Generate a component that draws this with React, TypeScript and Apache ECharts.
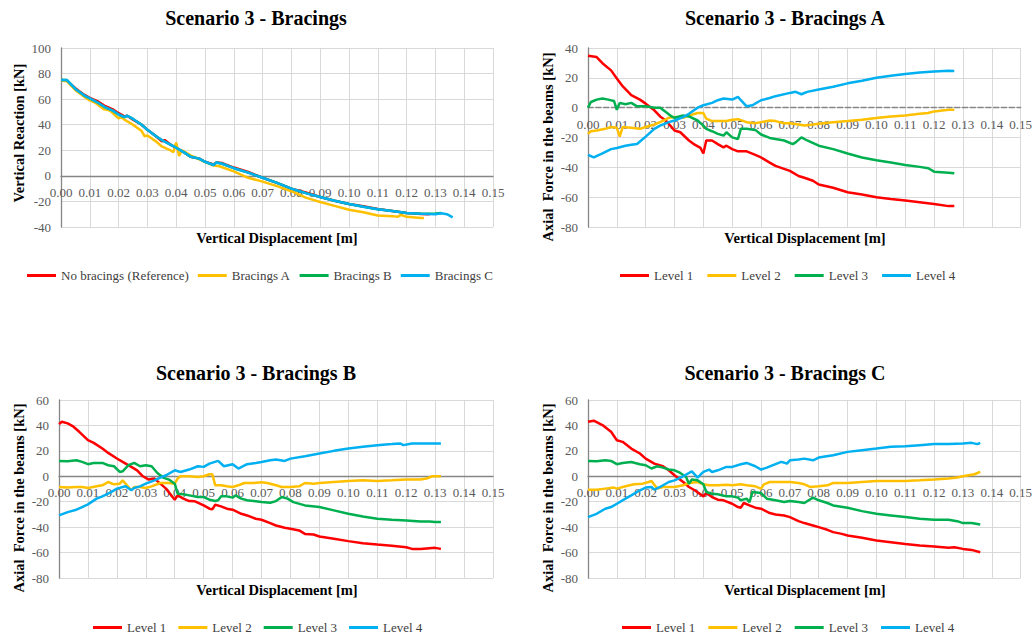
import React, { useEffect, useRef } from "react";
import * as echarts from "echarts";

const FONT = "Liberation Serif, Times New Roman, serif";

const titles = ["Scenario 3 - Bracings", "Scenario 3 - Bracings A", "Scenario 3 - Bracings B", "Scenario 3 - Bracings C"];
const yTitles = ["Vertical Reaction [kN]", "Axial  Force in the beams [kN]", "Axial  Force in the beams [kN]", "Axial  Force in the beams [kN]"];
const xTitle = "Vertical Displacement [m]";
const p1Names = ["No bracings (Reference)", "Bracings A", "Bracings B", "Bracings C"];
const levelNames = ["Level 1", "Level 2", "Level 3", "Level 4"];
const colors = ["#FF0000", "#FFC000", "#00B050", "#00B0F0"];
const yRanges = [[-40, 100], [-80, 40], [-80, 60], [-80, 60]];

// Panel 1 — vertical reaction [kN] vs displacement [m]
const p1Ref: number[][] = [[0,75],[0.002,74.5],[0.005,68.5],[0.008,63.5],[0.01,61],[0.013,58],[0.015,55],[0.018,52],[0.02,49],[0.022,46.5],[0.023,47],[0.025,44],[0.028,40],[0.03,36],[0.033,31],[0.035,27],[0.036,28],[0.038,24.5],[0.04,22],[0.043,18],[0.045,15],[0.048,13.5],[0.05,11],[0.053,9],[0.054,10.5],[0.056,10],[0.06,6.5],[0.065,3],[0.07,-1.5],[0.075,-5.5],[0.08,-10],[0.085,-13],[0.09,-16.5],[0.095,-19.5],[0.1,-22],[0.105,-23.8],[0.11,-26],[0.115,-27.5],[0.12,-29],[0.125,-29.8],[0.128,-30]];
const p1A: number[][] = [[0,74.5],[0.002,74],[0.005,67],[0.008,62],[0.01,59],[0.012,57],[0.015,52],[0.017,51],[0.02,45],[0.021,46],[0.022,44],[0.025,40],[0.028,35],[0.029,31],[0.03,31.5],[0.033,27],[0.035,23],[0.038,20],[0.039,18.5],[0.04,26],[0.041,15.5],[0.042,20],[0.045,16],[0.048,13],[0.05,11],[0.053,8],[0.055,7.5],[0.06,3.5],[0.065,-1.5],[0.07,-4.5],[0.075,-8],[0.08,-12],[0.085,-17],[0.09,-20.5],[0.095,-23.5],[0.1,-26.5],[0.105,-28.5],[0.11,-31],[0.115,-31.5],[0.117,-32],[0.118,-30.5],[0.12,-32],[0.125,-33],[0.126,-33]];
const p1B: number[][] = [[0,75],[0.002,75],[0.005,68],[0.008,63],[0.01,60.5],[0.013,57],[0.015,54],[0.018,51],[0.02,48],[0.022,46],[0.023,47],[0.025,44.5],[0.028,40],[0.03,36],[0.033,31],[0.035,28],[0.038,24.5],[0.04,22],[0.043,18],[0.045,15],[0.048,13.5],[0.05,11],[0.053,8.5],[0.054,10.5],[0.056,9.5],[0.06,6],[0.065,2.5],[0.07,-1.5],[0.075,-5.5],[0.08,-10],[0.085,-13.5],[0.09,-16.5],[0.095,-19.5],[0.1,-22],[0.105,-24.2],[0.11,-26.2],[0.115,-27.5],[0.12,-29],[0.125,-29.7],[0.13,-29.5],[0.132,-29]];
const p1C: number[][] = [[0,75],[0.002,75],[0.005,68],[0.008,63],[0.01,60.6],[0.013,57],[0.015,54],[0.018,51],[0.02,48],[0.022,46],[0.023,47],[0.025,44.5],[0.028,40],[0.03,36],[0.033,31],[0.035,28],[0.038,24.5],[0.04,22],[0.043,18],[0.045,15],[0.048,13.5],[0.05,11],[0.053,8.5],[0.054,10.5],[0.056,9.5],[0.06,6],[0.065,2.5],[0.07,-1.5],[0.075,-5.5],[0.08,-10],[0.085,-13.5],[0.09,-16.5],[0.095,-19.5],[0.1,-22],[0.105,-24.2],[0.11,-26.2],[0.115,-27.5],[0.12,-29],[0.125,-29.7],[0.13,-30],[0.132,-29.2],[0.134,-30],[0.136,-32.5]];

// Panel 2 — Bracings A, axial force [kN]
const p2L1: number[][] = [[0,34.8],[0.003,33.9],[0.005,29.8],[0.008,25],[0.01,19.6],[0.012,14.4],[0.015,8.4],[0.018,5.4],[0.02,2.7],[0.023,-1.8],[0.025,-5.9],[0.027,-8.6],[0.03,-15.3],[0.032,-16.5],[0.035,-22],[0.037,-24.8],[0.039,-27],[0.04,-30.7],[0.041,-22],[0.043,-22],[0.045,-24.4],[0.047,-26.6],[0.048,-25.5],[0.05,-27.8],[0.052,-29.3],[0.055,-29.3],[0.058,-31.6],[0.06,-33.4],[0.063,-36.8],[0.065,-39],[0.07,-42.4],[0.073,-45.8],[0.075,-47],[0.078,-49],[0.08,-51.5],[0.085,-53.7],[0.09,-56.7],[0.095,-58.2],[0.1,-60],[0.105,-61.2],[0.11,-62.3],[0.115,-63.4],[0.12,-64.6],[0.125,-66],[0.127,-66]];
const p2L2: number[][] = [[0,-17.6],[0.001,-15.8],[0.003,-15.3],[0.006,-14.2],[0.008,-13],[0.01,-13.5],[0.011,-19.4],[0.012,-13],[0.015,-13.5],[0.018,-14.2],[0.02,-13],[0.023,-11.3],[0.025,-9.7],[0.028,-6.8],[0.03,-6.3],[0.033,-6.8],[0.035,-5.2],[0.038,-3.6],[0.04,-3.6],[0.041,-7.4],[0.043,-9],[0.045,-9],[0.048,-9],[0.05,-8.1],[0.052,-7.7],[0.055,-9.7],[0.058,-10.4],[0.06,-9.7],[0.063,-8.6],[0.065,-9],[0.068,-10.4],[0.07,-10.4],[0.073,-11.3],[0.075,-12],[0.078,-11.3],[0.08,-10.8],[0.085,-9.7],[0.09,-9],[0.095,-8.1],[0.1,-7],[0.105,-5.9],[0.11,-5.2],[0.115,-4.1],[0.118,-3.6],[0.12,-2.5],[0.125,-1.4],[0.127,-1.4]];
const p2L3: number[][] = [[0,0],[0.001,3.8],[0.003,5.4],[0.005,6.1],[0.007,5.4],[0.009,4.5],[0.01,-1.4],[0.011,3.2],[0.013,2.3],[0.015,3.2],[0.017,0.9],[0.02,0.9],[0.023,0],[0.025,0],[0.027,-2.9],[0.029,-5.9],[0.03,-6.8],[0.033,-5.2],[0.035,-5.9],[0.038,-8.6],[0.04,-12],[0.041,-14.2],[0.043,-15.8],[0.045,-17.6],[0.047,-18.7],[0.048,-16.5],[0.05,-19.9],[0.052,-21],[0.053,-14.2],[0.055,-14.2],[0.058,-14.9],[0.06,-18],[0.063,-20.3],[0.065,-21],[0.068,-22],[0.071,-24.4],[0.072,-23.3],[0.074,-19.9],[0.076,-22],[0.08,-25.5],[0.085,-27.8],[0.09,-30.7],[0.095,-33.4],[0.1,-35.2],[0.105,-36.8],[0.11,-38.4],[0.115,-39.7],[0.118,-40.6],[0.12,-42.9],[0.125,-43.6],[0.127,-44]];
const p2L4: number[][] = [[0,-31.6],[0.002,-33.4],[0.005,-30.7],[0.008,-27.8],[0.01,-27],[0.013,-25.5],[0.015,-24.8],[0.017,-24.4],[0.02,-19.4],[0.023,-14.2],[0.025,-12],[0.028,-9.7],[0.03,-8.6],[0.033,-6.3],[0.035,-4.1],[0.038,0],[0.04,1.6],[0.043,3.2],[0.045,5],[0.047,6.1],[0.05,5.4],[0.052,7.2],[0.053,5],[0.055,0.9],[0.057,1.6],[0.06,5],[0.063,6.5],[0.065,7.7],[0.07,9.9],[0.072,10.6],[0.074,9],[0.076,10.6],[0.08,12.2],[0.085,14],[0.09,16.3],[0.095,18],[0.1,20],[0.105,21.4],[0.11,22.6],[0.115,23.5],[0.12,24.2],[0.125,24.8],[0.127,24.6]];

// Panel 3 — Bracings B
const p3L1: number[][] = [[0,41],[0.001,42.9],[0.003,41.6],[0.005,39],[0.007,35],[0.01,28.4],[0.012,26.3],[0.015,21.8],[0.017,18.4],[0.02,14],[0.022,11.3],[0.025,7.4],[0.027,4.7],[0.029,0],[0.031,-2.6],[0.033,-1.8],[0.035,-5.8],[0.037,-9.7],[0.04,-18.4],[0.041,-15],[0.043,-17.6],[0.045,-19.5],[0.047,-19.7],[0.05,-22.9],[0.052,-25.5],[0.053,-26],[0.054,-22.4],[0.056,-23.7],[0.058,-25.5],[0.06,-26.3],[0.063,-29.5],[0.065,-30.8],[0.068,-33.4],[0.07,-34.2],[0.073,-36.8],[0.075,-38.7],[0.078,-40.5],[0.08,-41.3],[0.083,-42.6],[0.085,-45.3],[0.088,-45.8],[0.09,-47.4],[0.095,-49.2],[0.1,-51],[0.105,-52.6],[0.11,-53.7],[0.115,-54.7],[0.12,-55.8],[0.122,-57.1],[0.125,-57.1],[0.13,-56.3],[0.132,-57.1]];
const p3L2: number[][] = [[0,-8.4],[0.003,-8.9],[0.006,-8.4],[0.008,-8.4],[0.01,-9.2],[0.013,-7.9],[0.015,-7.1],[0.017,-4.5],[0.019,-6.3],[0.021,-5.8],[0.022,-3.2],[0.024,-8.4],[0.025,-11],[0.026,-8.4],[0.028,-8.4],[0.03,-9.2],[0.032,-7.9],[0.035,-5.3],[0.038,-5.3],[0.04,-5.8],[0.041,-1.8],[0.042,0],[0.045,0],[0.048,-0.5],[0.05,0],[0.052,1.6],[0.053,1.6],[0.054,-7.1],[0.056,-7.1],[0.058,-7.9],[0.06,-8.4],[0.062,-7.1],[0.064,-5.3],[0.067,-5.3],[0.07,-4.7],[0.072,-5.3],[0.075,-7.1],[0.077,-8.4],[0.08,-8.4],[0.083,-7.9],[0.085,-5.3],[0.088,-5.8],[0.09,-5.3],[0.095,-4.5],[0.1,-3.7],[0.105,-3.2],[0.11,-3.7],[0.115,-3.2],[0.12,-2.6],[0.125,-2.6],[0.127,-1.8],[0.129,0],[0.132,0]];
const p3L3: number[][] = [[0,12.1],[0.003,11.8],[0.006,12.6],[0.008,11.3],[0.01,9.5],[0.012,10.5],[0.015,10.5],[0.017,8.7],[0.019,7.9],[0.021,3.4],[0.022,3.9],[0.024,8.7],[0.026,10.5],[0.028,7.9],[0.03,8.7],[0.032,7.9],[0.034,2.6],[0.036,-1],[0.038,-2.6],[0.04,-5.8],[0.041,-13.7],[0.043,-14.2],[0.045,-15],[0.048,-16.3],[0.05,-16.3],[0.052,-18.4],[0.054,-19.5],[0.055,-18.9],[0.056,-15.8],[0.058,-15.8],[0.06,-16.8],[0.061,-15],[0.063,-17.6],[0.065,-18.9],[0.068,-19.7],[0.07,-20.3],[0.073,-20.8],[0.075,-19.5],[0.077,-16.3],[0.079,-17.6],[0.081,-20.3],[0.085,-22.9],[0.09,-24.2],[0.095,-26.8],[0.1,-29.5],[0.105,-31.6],[0.11,-33.4],[0.115,-34.2],[0.12,-34.7],[0.125,-35.5],[0.128,-35.5],[0.13,-36],[0.132,-36]];
const p3L4: number[][] = [[0,-30.8],[0.003,-28.2],[0.006,-26.3],[0.008,-24.2],[0.01,-22.1],[0.013,-17.6],[0.015,-15.8],[0.018,-12.4],[0.02,-9.7],[0.023,-7.9],[0.025,-11],[0.026,-9.2],[0.028,-7.9],[0.03,-5.8],[0.033,-3.2],[0.035,-1],[0.037,0.8],[0.04,4.7],[0.042,3.4],[0.045,5.3],[0.048,7.9],[0.05,7.4],[0.052,10],[0.055,12.1],[0.057,7.9],[0.06,9.5],[0.062,6.1],[0.065,9.5],[0.068,10.5],[0.07,11.3],[0.073,12.6],[0.075,13.2],[0.078,12.1],[0.08,13.9],[0.085,15.8],[0.09,17.9],[0.095,20],[0.1,21.8],[0.105,23.2],[0.11,24.5],[0.115,25.3],[0.118,25.8],[0.119,24.5],[0.122,25.8],[0.125,25.8],[0.13,25.8],[0.132,25.8]];

// Panel 4 — Bracings C
const p4L1: number[][] = [[0,42.9],[0.002,43.7],[0.005,40.3],[0.008,35],[0.01,28.4],[0.012,27.1],[0.015,21.8],[0.018,17.9],[0.02,13.9],[0.023,10],[0.026,7.9],[0.028,4.7],[0.03,0.8],[0.033,-4.5],[0.035,-8.4],[0.037,-11],[0.04,-15.8],[0.041,-13.2],[0.043,-16.3],[0.045,-18.4],[0.047,-18.9],[0.05,-21.6],[0.052,-24.2],[0.053,-24.7],[0.054,-21],[0.056,-22.9],[0.058,-24.7],[0.06,-25.5],[0.063,-28.9],[0.065,-30],[0.068,-30.8],[0.07,-32.1],[0.073,-35.3],[0.075,-36.8],[0.078,-38.7],[0.08,-40],[0.083,-42.1],[0.085,-43.9],[0.088,-45.3],[0.09,-46.6],[0.095,-48.4],[0.1,-50.5],[0.105,-51.8],[0.11,-53.2],[0.115,-54.5],[0.12,-55.3],[0.125,-56.3],[0.127,-55.8],[0.13,-57.1],[0.133,-57.9],[0.136,-59.7]];
const p4L2: number[][] = [[0,-10.5],[0.003,-10.5],[0.006,-9.7],[0.009,-8.9],[0.01,-9.7],[0.013,-7.9],[0.016,-6.3],[0.019,-5.8],[0.021,-4.5],[0.022,-3.7],[0.024,-9.7],[0.026,-8.4],[0.028,-8.4],[0.03,-8.4],[0.033,-7.1],[0.035,-5.3],[0.038,-4.5],[0.04,-6.3],[0.042,-7.1],[0.045,-7.1],[0.048,-6.6],[0.05,-7.1],[0.053,-6.3],[0.055,-7.1],[0.058,-7.9],[0.06,-9.7],[0.061,-6.3],[0.063,-4.5],[0.065,-4.5],[0.07,-4.5],[0.073,-5.3],[0.075,-6.3],[0.077,-8.4],[0.08,-7.9],[0.083,-7.1],[0.085,-5.3],[0.09,-5.3],[0.095,-4.5],[0.1,-3.7],[0.105,-3.7],[0.11,-3.7],[0.115,-3.2],[0.12,-2.6],[0.125,-1.8],[0.128,-1],[0.13,0],[0.132,0.8],[0.134,1.6],[0.136,3.4]];
const p4L3: number[][] = [[0,12.1],[0.003,11.8],[0.006,12.6],[0.008,12.1],[0.01,9.5],[0.012,10.5],[0.015,11.3],[0.018,9.5],[0.02,8.7],[0.022,6.1],[0.024,7.9],[0.026,6.8],[0.028,5.3],[0.03,4.7],[0.032,2.6],[0.034,-0.5],[0.035,-5.8],[0.036,-2.6],[0.038,-3.2],[0.04,-6.3],[0.041,-12.4],[0.043,-13.7],[0.045,-14.2],[0.048,-15.8],[0.05,-15.8],[0.052,-16.8],[0.053,-18.9],[0.055,-17.6],[0.056,-20.3],[0.057,-12.4],[0.06,-13.2],[0.062,-17.6],[0.065,-18.9],[0.068,-20.3],[0.07,-19.5],[0.073,-20.3],[0.075,-21],[0.078,-16.8],[0.08,-18.9],[0.083,-21],[0.085,-22.9],[0.09,-24.7],[0.095,-27.4],[0.1,-29.5],[0.105,-30.8],[0.11,-32.1],[0.115,-33.4],[0.12,-34.2],[0.125,-34.2],[0.128,-35.3],[0.13,-36.8],[0.133,-36.8],[0.136,-37.9]];
const p4L4: number[][] = [[0,-32.1],[0.003,-29.5],[0.006,-25.5],[0.008,-24.2],[0.01,-21.6],[0.013,-17.6],[0.015,-15],[0.018,-11],[0.02,-8.9],[0.022,-8.4],[0.023,-10.5],[0.025,-8.4],[0.028,-4.5],[0.03,-3.2],[0.033,0],[0.036,3.9],[0.038,-1],[0.04,3.4],[0.042,5.3],[0.043,3.4],[0.045,4.7],[0.048,7.4],[0.05,7.4],[0.053,9.5],[0.055,10.5],[0.058,7.9],[0.06,5.3],[0.062,6.8],[0.065,9.5],[0.067,11.3],[0.069,10],[0.07,12.6],[0.073,13.2],[0.075,13.9],[0.078,12.6],[0.08,14.7],[0.085,16.6],[0.09,19.2],[0.095,20.5],[0.1,21.8],[0.105,23.2],[0.11,23.7],[0.115,24.5],[0.12,25.3],[0.125,25.3],[0.13,25.8],[0.133,26.3],[0.135,25.3],[0.136,26.3]];

const panelData = [
  [p1Ref, p1A, p1B, p1C],
  [p2L1, p2L2, p2L3, p2L4],
  [p3L1, p3L2, p3L3, p3L4],
  [p4L1, p4L2, p4L3, p4L4],
];

export default function App() {
  const ref = useRef<HTMLDivElement>(null);
  useEffect(() => {
    if (!ref.current) return;
    const chart = echarts.init(ref.current, null, { renderer: "svg" });

    const grids = [
      { left: 61, top: 48, width: 432, height: 179 },
      { left: 588, top: 48, width: 434, height: 179 },
      { left: 59, top: 400, width: 434, height: 178 },
      { left: 588, top: 400, width: 434, height: 178 },
    ];
    const gridColor = "#D9D9D9";
    const axisColor = "#868686";

    const xAxis = grids.map((g, i) => {
      const [lo, hi] = yRanges[i];
      const zeroFromBottom = (g.height * (0 - lo)) / (hi - lo);
      return {
        type: "value",
        gridIndex: i,
        position: "bottom",
        offset: -zeroFromBottom,
        min: 0,
        max: 0.15,
        interval: 0.01,
        axisLine: {
          show: true,
          onZero: false,
          lineStyle: { color: axisColor, width: 1.3, type: i === 1 ? "dashed" : "solid" },
        },
        axisTick: { show: false },
        axisLabel: {
          margin: 10,
          color: "#595959",
          fontFamily: FONT,
          fontSize: 13,
          formatter: (v: number) => v.toFixed(2),
        },
        splitLine: { show: true, lineStyle: { color: gridColor, width: 1 } },
      };
    });

    const yAxis = grids.map((_, i) => ({
      type: "value",
      gridIndex: i,
      min: yRanges[i][0],
      max: yRanges[i][1],
      interval: 20,
      axisLine: { show: true, onZero: false, lineStyle: { color: axisColor, width: 1.3 } },
      axisTick: { show: false },
      axisLabel: { margin: 10, color: "#595959", fontFamily: FONT, fontSize: 13 },
      splitLine: { show: true, lineStyle: { color: gridColor, width: 1 } },
    }));

    const series: any[] = [];
    panelData.forEach((panel, pi) => {
      panel.forEach((data, si) => {
        series.push({
          type: "line",
          name: pi === 0 ? p1Names[si] : levelNames[si],
          xAxisIndex: pi,
          yAxisIndex: pi,
          data,
          symbol: "none",
          showSymbol: false,
          lineStyle: { color: colors[si], width: 2.5 },
          itemStyle: { color: colors[si] },
          z: 3 + si,
        });
      });
    });

    const legendBase = {
      icon: "rect",
      itemWidth: 29,
      itemHeight: 3,
      padding: 0,
      selectedMode: false,
      textStyle: { fontFamily: FONT, fontSize: 13, color: "#404040" },
    };
    const legend = [
      { ...legendBase, data: p1Names, left: 27, top: 269, itemGap: 9 },
      { ...legendBase, data: levelNames, left: 620, top: 269, itemGap: 14 },
      { ...legendBase, data: levelNames, left: 93, top: 621, itemGap: 12 },
      { ...legendBase, data: levelNames, left: 622, top: 621, itemGap: 13 },
    ];

    const txt = (text: string, x: number, y: number, size: number, rot = 0) => ({
      type: "text",
      x,
      y,
      rotation: rot,
      silent: true,
      style: {
        text,
        fill: "#000000",
        fontFamily: FONT,
        fontSize: size,
        fontWeight: "bold",
        align: "center",
        verticalAlign: "middle",
        textAlign: "center",
        textVerticalAlign: "middle",
      },
    });

    const graphic = [
      txt(titles[0], 256, 18, 20),
      txt(titles[1], 785, 18, 20),
      txt(titles[2], 256, 373, 20),
      txt(titles[3], 785, 373, 20),
      txt(xTitle, 277, 238, 14.5),
      txt(xTitle, 805, 238, 14.5),
      txt(xTitle, 277, 590, 14.5),
      txt(xTitle, 805, 590, 14.5),
      txt(yTitles[0], 19, 133, 14.5, Math.PI / 2),
      txt(yTitles[1], 548, 147, 14.5, Math.PI / 2),
      txt(yTitles[2], 19, 498, 14.5, Math.PI / 2),
      txt(yTitles[3], 548, 498, 14.5, Math.PI / 2),
    ];

    chart.setOption({
      animation: false,
      backgroundColor: "#ffffff",
      textStyle: { fontFamily: FONT },
      grid: grids,
      xAxis,
      yAxis,
      series,
      legend,
      graphic,
    } as any);

    return () => chart.dispose();
  }, []);

  return (
    <div
      ref={ref}
      style={{ width: 1035, height: 636, position: "absolute", left: 0, top: 0 }}
    />
  );
}
